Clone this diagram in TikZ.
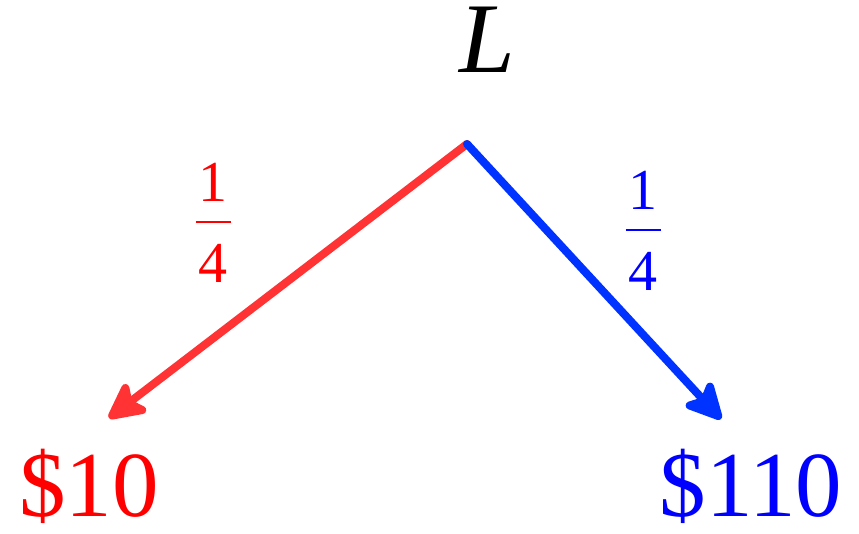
\documentclass[tikz,border=0pt]{standalone}
\usepackage{fontspec}
\setmainfont{Liberation Serif}
\usetikzlibrary{arrows.meta}
\definecolor{lred}{HTML}{FF3333}
\definecolor{lblue}{HTML}{0033FF}
\tikzset{
  branch/.style={line width=8pt, line cap=round, line join=round,
    -{Stealth[length=44pt, width=44pt, inset=10pt, round]}},
  big/.style={font=\fontsize{93}{96}\selectfont, inner sep=0pt},
  prob/.style={font=\fontsize{58}{60}\selectfont, inner sep=0pt, align=center}
}
\begin{document}
\begin{tikzpicture}[x=1pt,y=-1pt]
\useasboundingbox (0,0) rectangle (859,533);
\node[font=\fontsize{100}{100}\selectfont\itshape, inner sep=0pt] (lot) at (487,40) {L};
\coordinate (top) at (467,144);
\coordinate (lo) at (109,418);
\coordinate (hi) at (721,419);
\node[big, text=red] (low) at (89,486) {\$10};
\node[big, text=blue] (high) at (751,486) {\$110};
\node[prob, text=red] (pl) at (213,223) {1\\[-38.5pt]\rule{35pt}{2.5pt}\\[-0.5pt]4};
\node[prob, text=blue] (ph) at (643,231) {1\\[-38.5pt]\rule{35pt}{2.5pt}\\[-0.5pt]4};
\draw[branch, lred] (top) -- (lo);
\draw[branch, lblue] (top) -- (hi);
\end{tikzpicture}
\end{document}
